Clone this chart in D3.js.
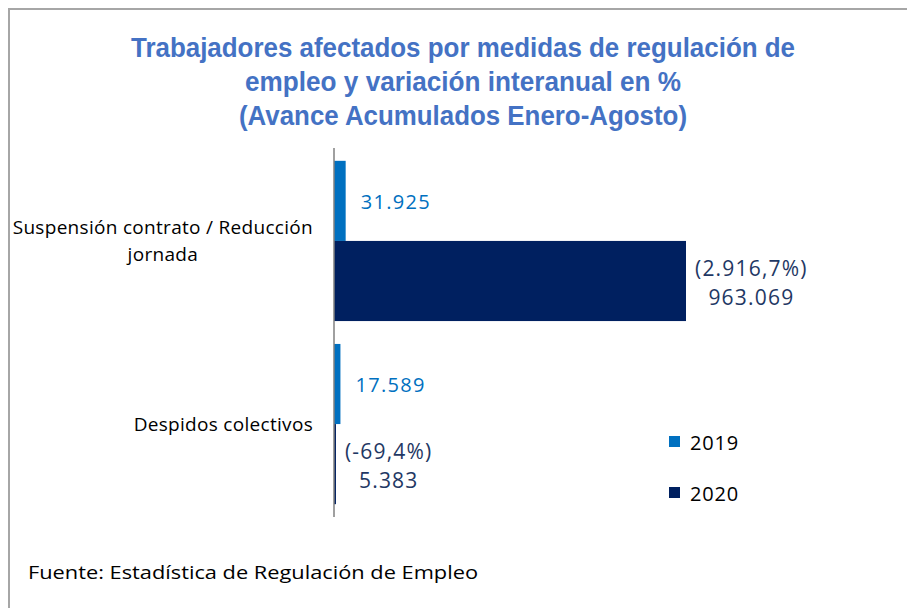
<!DOCTYPE html>
<html><head><meta charset="utf-8">
<script src="https://cdn.jsdelivr.net/npm/d3@7"></script>
<style>
html,body{margin:0;padding:0;background:#fff;}
svg{display:block;}
</style></head>
<body>
<svg id="chart" width="907" height="608"></svg>
<script>
const categories = ["Suspensión contrato / Reducción jornada", "Despidos colectivos"];
const categoryLines = [["Suspensión contrato / Reducción", "jornada"], ["Despidos colectivos"]];
const seriesNames = ["2019", "2020"];
const values2019 = [31925, 17589];
const values2020 = [963069, 5383];
const variation2020 = ["(2.916,7%)", "(-69,4%)"];
const titleLines = ["Trabajadores afectados por medidas de regulación de", "empleo y variación interanual en %", "(Avance Acumulados Enero-Agosto)"];
const sourceText = "Fuente:  Estadística de Regulación de Empleo";

const colors = {"2019": "#0070C0", "2020": "#002060"};
const labelColors = {"2019": "#0070C0", "2020": "#1F3864"};
const fmt = v => d3.format(",")(v).replace(/,/g, ".");

const svg = d3.select("#chart");
const W = 907, H = 608;

// frame
svg.append("path").attr("d", `M9,${H} V9 H${W}`).attr("fill", "none")
  .attr("stroke", "#a6a6a6").attr("stroke-width", 2);

// title
const titleWidths = [664, 436, 448];
const title = svg.append("text").attr("text-anchor", "middle")
  .attr("font-family", "'Liberation Sans', sans-serif")
  .attr("font-weight", "bold").attr("font-size", 28).attr("fill", "#4472C4");
titleLines.forEach((t, i) => title.append("tspan").attr("x", 463).attr("y", 57 + i * 34)
  .attr("textLength", titleWidths[i]).attr("lengthAdjust", "spacingAndGlyphs").text(t));

const data = categories.map((c, i) => ({cat: c, lines: categoryLines[i], v: {"2019": values2019[i], "2020": values2020[i]}, varTxt: variation2020[i]}));

const x = d3.scaleLinear().domain([0, d3.max(values2020.concat(values2019))]).range([334, 686]);
const y = d3.scaleBand().domain(categories).range([148, 517]).paddingInner(0.125).paddingOuter(0.07);
const ySub = d3.scaleBand().domain(seriesNames).range([0, y.bandwidth()]);

const g = svg.append("g");
data.forEach(d => {
  seriesNames.forEach(s => {
    g.append("rect")
      .attr("x", x(0)).attr("y", y(d.cat) + ySub(s))
      .attr("width", x(d.v[s]) - x(0)).attr("height", ySub.bandwidth())
      .attr("fill", colors[s]);
  });
});

// axis line
svg.append("line").attr("x1", 334).attr("x2", 334).attr("y1", 148).attr("y2", 517)
  .attr("stroke", "#808080").attr("stroke-width", 1.5);

const labelFont = "'Open Sans', 'Noto Sans', sans-serif";

// category labels
data.forEach(d => {
  const cy = y(d.cat) + y.bandwidth() / 2;
  const t = svg.append("text").attr("font-family", labelFont).attr("font-size", 19)
    .attr("letter-spacing", 0.3).attr("fill", "#000").attr("text-anchor", "middle");
  const spans = d.lines.map((l, i) => t.append("tspan").text(l));
  const widths = spans.map(s => s.node().getComputedTextLength());
  const bw = d3.max(widths);
  const right = 313;
  const lh = 27;
  spans.forEach((s, i) => s.attr("x", right - bw / 2)
    .attr("y", cy + (i - (d.lines.length - 1) / 2) * lh + 7));
});

// value labels
data.forEach(d => {
  const c19 = y(d.cat) + ySub("2019") + ySub.bandwidth() / 2;
  svg.append("text").attr("font-family", labelFont).attr("font-size", 20)
    .attr("fill", labelColors["2019"]).attr("x", x(d.v["2019"]) + 15).attr("y", c19 + 8)
    .attr("letter-spacing", 1.3).text(fmt(d.v["2019"]));
  const c20 = y(d.cat) + ySub("2020") + ySub.bandwidth() / 2;
  const t = svg.append("text").attr("font-family", labelFont).attr("font-size", 21)
    .attr("fill", labelColors["2020"]).attr("text-anchor", "middle").attr("letter-spacing", 1.2);
  const s1 = t.append("tspan").text(d.varTxt);
  const s2 = t.append("tspan").text(fmt(d.v["2020"]));
  const bw = Math.max(s1.node().getComputedTextLength(), s2.node().getComputedTextLength());
  const cx = x(d.v["2020"]) + 9 + bw / 2;
  s1.attr("x", cx).attr("y", c20 - 5);
  s2.attr("x", cx).attr("y", c20 + 24);
});

// legend
const legendY = [442, 493];
seriesNames.forEach((s, i) => {
  svg.append("rect").attr("x", 669).attr("y", legendY[i] - 6).attr("width", 11).attr("height", 11).attr("fill", colors[s]);
  svg.append("text").attr("font-family", labelFont).attr("font-size", 20).attr("fill", "#000")
    .attr("x", 690).attr("y", legendY[i] + 8).attr("letter-spacing", 0.8).text(s);
});

// source
svg.append("text").attr("font-family", labelFont)
  .attr("font-size", 19).attr("fill", "#000").attr("x", 28).attr("y", 579)
  .attr("textLength", 450).attr("lengthAdjust", "spacingAndGlyphs").text(sourceText);
</script>
</body></html>
